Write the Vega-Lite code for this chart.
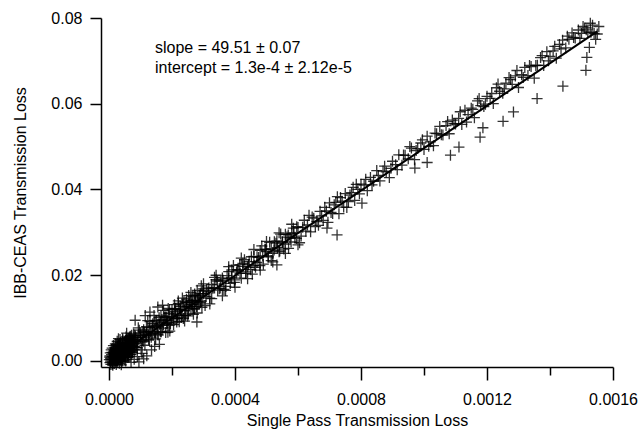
{
 "$schema": "https://vega.github.io/schema/vega-lite/v6.json",
 "width": 512, "height": 349,
 "autosize": {"type": "none"},
 "padding": {"left": 101, "top": 18, "right": 28, "bottom": 64},
 "background": "white",
 "config": {
  "view": {"stroke": null},
  "font": "Liberation Sans",
  "axis": {"domainColor": "#000", "domainWidth": 1.5, "tickColor": "#000", "tickWidth": 1.5, "labelColor": "#000", "titleColor": "#000", "labelFont": "Liberation Sans", "titleFont": "Liberation Sans", "labelFontSize": 16, "titleFontSize": 16, "titleFontWeight": "normal", "grid": false, "labelFlush": false, "labelOverlap": false, "labelBound": false}
 },
 "datasets": {
  "pts": [
   {"x":0.2e-5,"y":0.9e-3},{"x":0.3e-5,"y":-0.4e-3},{"x":0.4e-5,"y":1.9e-3},{"x":0.5e-5,"y":0.6e-3},{"x":0.6e-5,"y":-0.8e-3},{"x":0.6e-5,"y":0.2e-3},{"x":0.7e-5,"y":2.6e-3},{"x":0.8e-5,"y":1.5e-3},{"x":0.9e-5,"y":0.4e-3},{"x":1.0e-5,"y":-0.2e-3},{"x":1.0e-5,"y":3.0e-3},{"x":1.1e-5,"y":1.1e-3},{"x":1.2e-5,"y":0.3e-3},{"x":1.2e-5,"y":-1.0e-3},{"x":1.3e-5,"y":-0.5e-3},{"x":1.4e-5,"y":2.1e-3},{"x":1.4e-5,"y":3.6e-3},{"x":1.5e-5,"y":0.9e-3},{"x":1.6e-5,"y":1.6e-3},{"x":1.7e-5,"y":-0.6e-3},{"x":1.8e-5,"y":0.5e-3},{"x":1.9e-5,"y":1.4e-3},{"x":2.0e-5,"y":0.2e-3},{"x":2.0e-5,"y":4.0e-3},{"x":2.1e-5,"y":2.8e-3},{"x":2.2e-5,"y":1.3e-3},{"x":2.3e-5,"y":0.7e-3},{"x":2.3e-5,"y":-0.8e-3},{"x":2.4e-5,"y":1.8e-3},{"x":2.5e-5,"y":2.4e-3},{"x":2.6e-5,"y":-0.3e-3},{"x":2.6e-5,"y":4.6e-3},{"x":2.7e-5,"y":3.4e-3},{"x":2.8e-5,"y":0.0},{"x":2.9e-5,"y":1.1e-3},{"x":3.0e-5,"y":2.3e-3},{"x":3.0e-5,"y":5.2e-3},{"x":3.1e-5,"y":0.4e-3},{"x":3.2e-5,"y":2.9e-3},{"x":3.3e-5,"y":1.7e-3},{"x":3.3e-5,"y":-0.5e-3},{"x":3.4e-5,"y":3.9e-3},{"x":3.5e-5,"y":0.9e-3},{"x":3.5e-5,"y":5.0e-3},{"x":3.6e-5,"y":2.6e-3},{"x":3.7e-5,"y":1.4e-3},{"x":3.8e-5,"y":0.1e-3},{"x":3.9e-5,"y":1.9e-3},{"x":4.0e-5,"y":3.1e-3},{"x":4.1e-5,"y":1.3e-3},{"x":4.1e-5,"y":-0.1e-3},{"x":4.2e-5,"y":4.4e-3},{"x":4.3e-5,"y":0.2e-3},{"x":4.4e-5,"y":2.2e-3},{"x":4.5e-5,"y":0.6e-3},{"x":4.6e-5,"y":2.9e-3},{"x":4.7e-5,"y":1.6e-3},{"x":4.8e-5,"y":3.7e-3},{"x":4.9e-5,"y":2.0e-3},{"x":5.0e-5,"y":2.4e-3},{"x":5.0e-5,"y":0.3e-3},{"x":5.1e-5,"y":0.9e-3},{"x":5.2e-5,"y":4.8e-3},{"x":5.3e-5,"y":3.0e-3},{"x":5.4e-5,"y":1.8e-3},{"x":5.5e-5,"y":4.2e-3},{"x":5.6e-5,"y":3.5e-3},{"x":5.7e-5,"y":2.1e-3},{"x":5.8e-5,"y":5.3e-3},{"x":5.9e-5,"y":2.7e-3},{"x":6.0e-5,"y":1.2e-3},{"x":6.0e-5,"y":0.8e-3},{"x":6.1e-5,"y":4.1e-3},{"x":6.2e-5,"y":2.9e-3},{"x":6.3e-5,"y":3.2e-3},{"x":6.4e-5,"y":2.0e-3},{"x":6.5e-5,"y":5.6e-3},{"x":6.6e-5,"y":3.8e-3},{"x":6.7e-5,"y":4.9e-3},{"x":6.8e-5,"y":2.6e-3},{"x":6.9e-5,"y":4.5e-3},{"x":7.0e-5,"y":3.0e-3},{"x":7.0e-5,"y":1.5e-3},{"x":7.1e-5,"y":3.9e-3},{"x":7.2e-5,"y":6.0e-3},{"x":7.3e-5,"y":3.6e-3},{"x":7.4e-5,"y":2.4e-3},{"x":7.5e-5,"y":3.4e-3},{"x":7.6e-5,"y":4.7e-3},{"x":7.7e-5,"y":3.3e-3},{"x":7.8e-5,"y":6.3e-3},{"x":7.9e-5,"y":5.4e-3},{"x":8.0e-5,"y":4.0e-3},
   {"x":1.8e-5,"y":2.4e-3},{"x":2.9e-5,"y":3.6e-3},{"x":4.4e-5,"y":4.9e-3},{"x":5.6e-5,"y":6.5e-3},{"x":3.9e-5,"y":-0.9e-3},{"x":5.3e-5,"y":0.0},{"x":6.3e-5,"y":1.0e-3},{"x":7.4e-5,"y":1.9e-3},{"x":8.2e-5,"y":2.6e-3},
   {"x":0.1e-5,"y":0.3e-3},{"x":0.3e-5,"y":1.2e-3},{"x":0.5e-5,"y":-0.2e-3},{"x":0.7e-5,"y":0.9e-3},{"x":0.9e-5,"y":2.0e-3},{"x":1.1e-5,"y":-0.7e-3},{"x":1.3e-5,"y":1.8e-3},{"x":1.5e-5,"y":2.6e-3},{"x":1.7e-5,"y":0.8e-3},{"x":1.9e-5,"y":3.1e-3},{"x":2.1e-5,"y":-0.2e-3},{"x":2.2e-5,"y":2.0e-3},{"x":2.4e-5,"y":3.8e-3},{"x":2.5e-5,"y":0.4e-3},{"x":2.7e-5,"y":1.5e-3},{"x":2.8e-5,"y":2.9e-3},{"x":3.0e-5,"y":0.8e-3},{"x":3.1e-5,"y":3.6e-3},{"x":3.2e-5,"y":1.2e-3},{"x":3.4e-5,"y":2.2e-3},{"x":3.6e-5,"y":4.3e-3},{"x":3.7e-5,"y":0.4e-3},{"x":3.8e-5,"y":3.0e-3},{"x":4.0e-5,"y":1.8e-3},{"x":4.2e-5,"y":2.7e-3},{"x":4.3e-5,"y":5.2e-3},{"x":4.5e-5,"y":3.4e-3},{"x":4.6e-5,"y":1.0e-3},{"x":4.8e-5,"y":2.6e-3},{"x":4.9e-5,"y":4.4e-3},{"x":5.1e-5,"y":3.3e-3},{"x":5.2e-5,"y":1.4e-3},{"x":5.4e-5,"y":5.6e-3},{"x":5.5e-5,"y":2.5e-3},{"x":5.7e-5,"y":4.0e-3},{"x":5.9e-5,"y":1.7e-3},{"x":6.1e-5,"y":3.4e-3},{"x":6.2e-5,"y":5.3e-3},{"x":6.4e-5,"y":4.2e-3},{"x":6.6e-5,"y":2.2e-3},{"x":6.8e-5,"y":5.8e-3},{"x":6.9e-5,"y":3.5e-3},{"x":7.1e-5,"y":2.1e-3},{"x":7.3e-5,"y":5.0e-3},{"x":7.5e-5,"y":4.3e-3},{"x":7.7e-5,"y":2.7e-3},{"x":7.9e-5,"y":4.6e-3},{"x":8.1e-5,"y":3.4e-3},{"x":8.3e-5,"y":5.8e-3},{"x":8.6e-5,"y":3.2e-3},
   {"x":9.0e-5,"y":1.0e-3},{"x":10.5e-5,"y":1.8e-3},{"x":12.0e-5,"y":1.2e-3},{"x":13.5e-5,"y":2.6e-3},{"x":11.0e-5,"y":0.5e-3},{"x":14.5e-5,"y":3.4e-3},{"x":16.0e-5,"y":3.9e-3},{"x":8.0e-5,"y":0.4e-3},{"x":7.0e-5,"y":-0.3e-3},{"x":9.5e-5,"y":-0.2e-3},
   {"x":8.5e-5,"y":5.54e-3},{"x":9.0e-5,"y":3.09e-3},{"x":9.6e-5,"y":7.18e-3},{"x":10.0e-5,"y":5.48e-3},{"x":10.5e-5,"y":4.43e-3},{"x":11.0e-5,"y":7.28e-3},{"x":11.4e-5,"y":3.67e-3},{"x":12.0e-5,"y":6.87e-3},{"x":12.5e-5,"y":6.02e-3},{"x":13.0e-5,"y":9.17e-3},{"x":13.4e-5,"y":5.56e-3},{"x":14.0e-5,"y":8.16e-3},{"x":14.5e-5,"y":6.71e-3},{"x":15.0e-5,"y":9.46e-3},{"x":15.6e-5,"y":6.05e-3},{"x":16.0e-5,"y":8.55e-3},{"x":16.5e-5,"y":10.5e-3},{"x":17.0e-5,"y":7.65e-3},{"x":17.6e-5,"y":10.24e-3},{"x":18.0e-5,"y":6.64e-3},{"x":18.5e-5,"y":9.49e-3},{"x":19.0e-5,"y":11.14e-3},{"x":19.5e-5,"y":8.68e-3},{"x":20.0e-5,"y":12.03e-3},{"x":20.6e-5,"y":9.93e-3},{"x":21.0e-5,"y":11.53e-3},{"x":21.5e-5,"y":9.07e-3},{"x":22.0e-5,"y":13.42e-3},{"x":22.6e-5,"y":11.92e-3},{"x":23.0e-5,"y":10.22e-3},{"x":23.5e-5,"y":13.26e-3},{"x":24.0e-5,"y":11.81e-3},{"x":24.6e-5,"y":14.41e-3},{"x":25.0e-5,"y":10.51e-3},{"x":25.5e-5,"y":13.65e-3},{"x":26.0e-5,"y":12.30e-3},{"x":26.6e-5,"y":15.10e-3},{"x":27.0e-5,"y":12.10e-3},{"x":27.5e-5,"y":14.05e-3},{"x":28.0e-5,"y":16.49e-3},{"x":28.6e-5,"y":13.29e-3},{"x":29.0e-5,"y":15.69e-3},{"x":29.5e-5,"y":12.54e-3},{"x":30.0e-5,"y":15.68e-3},
   {"x":8.8e-5,"y":4.09e-3},{"x":9.3e-5,"y":7.73e-3},{"x":10.2e-5,"y":2.58e-3},{"x":10.8e-5,"y":6.88e-3},{"x":11.7e-5,"y":6.02e-3},{"x":12.3e-5,"y":9.42e-3},{"x":12.8e-5,"y":4.87e-3},{"x":13.7e-5,"y":7.81e-3},{"x":14.3e-5,"y":10.61e-3},{"x":14.8e-5,"y":5.16e-3},{"x":15.3e-5,"y":8.01e-3},{"x":16.3e-5,"y":6.80e-3},{"x":16.8e-5,"y":9.65e-3},{"x":17.3e-5,"y":11.80e-3},{"x":18.3e-5,"y":8.69e-3},{"x":18.8e-5,"y":12.24e-3},{"x":19.3e-5,"y":6.99e-3},{"x":20.3e-5,"y":10.78e-3},{"x":20.8e-5,"y":13.13e-3},{"x":21.3e-5,"y":9.88e-3},{"x":22.3e-5,"y":9.17e-3},{"x":22.8e-5,"y":12.72e-3},{"x":23.3e-5,"y":14.67e-3},{"x":24.3e-5,"y":10.66e-3},{"x":24.8e-5,"y":12.81e-3},{"x":25.3e-5,"y":15.26e-3},{"x":26.3e-5,"y":13.15e-3},{"x":26.8e-5,"y":10.90e-3},{"x":27.3e-5,"y":15.25e-3},{"x":28.3e-5,"y":13.84e-3},{"x":28.8e-5,"y":15.29e-3},{"x":29.3e-5,"y":17.54e-3},
   {"x":9.2e-5,"y":4.99e-3},{"x":9.9e-5,"y":6.53e-3},{"x":10.6e-5,"y":4.78e-3},{"x":11.3e-5,"y":6.62e-3},{"x":11.9e-5,"y":8.02e-3},{"x":12.6e-5,"y":5.07e-3},{"x":13.2e-5,"y":6.87e-3},{"x":13.9e-5,"y":8.71e-3},{"x":14.6e-5,"y":6.46e-3},{"x":15.2e-5,"y":8.26e-3},{"x":15.9e-5,"y":10.10e-3},{"x":16.6e-5,"y":6.85e-3},{"x":17.2e-5,"y":9.05e-3},{"x":17.9e-5,"y":10.29e-3},{"x":18.6e-5,"y":8.94e-3},{"x":19.2e-5,"y":11.94e-3},{"x":19.9e-5,"y":10.08e-3},{"x":20.5e-5,"y":8.48e-3},{"x":21.2e-5,"y":12.23e-3},{"x":21.8e-5,"y":10.72e-3},{"x":22.5e-5,"y":12.07e-3},{"x":23.2e-5,"y":10.62e-3},{"x":23.8e-5,"y":13.81e-3},{"x":24.5e-5,"y":12.56e-3},{"x":25.2e-5,"y":11.01e-3},{"x":25.8e-5,"y":14.00e-3},{"x":26.5e-5,"y":12.75e-3},{"x":27.2e-5,"y":15.60e-3},{"x":27.8e-5,"y":12.69e-3},{"x":28.5e-5,"y":14.74e-3},{"x":29.2e-5,"y":13.99e-3},{"x":29.8e-5,"y":16.28e-3},
   {"x":5.5e-5,"y":3.85e-3},{"x":6.4e-5,"y":2.10e-3},{"x":7.3e-5,"y":4.14e-3},{"x":8.2e-5,"y":5.99e-3},{"x":9.1e-5,"y":4.44e-3},{"x":10.1e-5,"y":5.93e-3},{"x":11.0e-5,"y":4.58e-3},{"x":11.9e-5,"y":6.12e-3},{"x":12.8e-5,"y":7.77e-3},{"x":13.7e-5,"y":6.41e-3},{"x":14.6e-5,"y":9.36e-3},{"x":15.5e-5,"y":6.20e-3},{"x":16.4e-5,"y":8.85e-3},{"x":17.3e-5,"y":8.40e-3},{"x":18.2e-5,"y":10.24e-3},{"x":19.1e-5,"y":8.29e-3},{"x":20.0e-5,"y":10.33e-3},{"x":20.9e-5,"y":12.18e-3},{"x":21.8e-5,"y":10.02e-3},{"x":22.7e-5,"y":11.87e-3},{"x":23.6e-5,"y":9.91e-3},{"x":24.5e-5,"y":13.66e-3},{"x":25.4e-5,"y":12.61e-3},{"x":26.3e-5,"y":14.05e-3},{"x":27.2e-5,"y":12.20e-3},{"x":28.1e-5,"y":14.24e-3},{"x":29.0e-5,"y":13.69e-3},{"x":29.9e-5,"y":16.83e-3},{"x":30.8e-5,"y":14.98e-3},{"x":31.7e-5,"y":17.02e-3},{"x":32.6e-5,"y":14.57e-3},{"x":33.5e-5,"y":17.02e-3},{"x":34.4e-5,"y":18.66e-3},{"x":35.3e-5,"y":17.01e-3},{"x":36.2e-5,"y":18.85e-3},{"x":37.1e-5,"y":17.40e-3},{"x":38.0e-5,"y":20.84e-3},{"x":38.9e-5,"y":19.39e-3},{"x":39.8e-5,"y":18.33e-3},{"x":40.7e-5,"y":21.28e-3},{"x":41.6e-5,"y":20.43e-3},{"x":42.5e-5,"y":22.77e-3},{"x":43.4e-5,"y":20.42e-3},{"x":44.3e-5,"y":22.46e-3},{"x":45.2e-5,"y":24.31e-3},{"x":46.1e-5,"y":22.25e-3},{"x":47.0e-5,"y":24.30e-3},{"x":47.9e-5,"y":22.25e-3},{"x":48.8e-5,"y":24.49e-3},{"x":49.7e-5,"y":26.04e-3},{"x":50.6e-5,"y":24.28e-3},{"x":51.5e-5,"y":26.23e-3},{"x":52.4e-5,"y":25.87e-3},{"x":53.3e-5,"y":28.02e-3},{"x":54.2e-5,"y":25.66e-3},{"x":55.1e-5,"y":27.81e-3},{"x":56.0e-5,"y":27.26e-3},{"x":56.9e-5,"y":29.40e-3},{"x":57.8e-5,"y":27.75e-3},{"x":58.7e-5,"y":29.89e-3},{"x":59.6e-5,"y":31.34e-3},
   {"x":22e-5,"y":14.0e-3},{"x":26e-5,"y":16.0e-3},{"x":30e-5,"y":18.0e-3},{"x":34e-5,"y":20.0e-3},{"x":38e-5,"y":22.0e-3},{"x":42e-5,"y":24.0e-3},{"x":46e-5,"y":26.0e-3},{"x":50e-5,"y":27.9e-3},{"x":54e-5,"y":29.9e-3},{"x":58e-5,"y":31.9e-3},
   {"x":24e-5,"y":9.3e-3},{"x":28e-5,"y":11.2e-3},{"x":32e-5,"y":13.3e-3},{"x":36e-5,"y":15.2e-3},{"x":40e-5,"y":17.2e-3},{"x":44e-5,"y":19.2e-3},{"x":48e-5,"y":21.2e-3},{"x":52e-5,"y":23.1e-3},{"x":56e-5,"y":25.1e-3},{"x":60e-5,"y":27.1e-3},
   {"x":8.3e-5,"y":9.5e-3},{"x":13.0e-5,"y":11.4e-3},{"x":17.0e-5,"y":13.0e-3},{"x":27.9e-5,"y":9.1e-3},{"x":18.7e-5,"y":6.7e-3},{"x":11.5e-5,"y":10.6e-3},{"x":15.5e-5,"y":12.6e-3},
   {"x":31e-5,"y":16.48e-3},{"x":32e-5,"y":14.67e-3},{"x":33e-5,"y":16.97e-3},{"x":34e-5,"y":18.96e-3},{"x":35e-5,"y":16.86e-3},{"x":36e-5,"y":19.35e-3},{"x":37e-5,"y":16.45e-3},{"x":38e-5,"y":19.24e-3},{"x":39e-5,"y":21.24e-3},{"x":40e-5,"y":18.93e-3},{"x":41e-5,"y":21.13e-3},{"x":42e-5,"y":19.32e-3},{"x":43e-5,"y":23.62e-3},{"x":44e-5,"y":21.91e-3},{"x":45e-5,"y":21.31e-3},{"x":46e-5,"y":24.40e-3},{"x":47e-5,"y":23.00e-3},{"x":48e-5,"y":25.79e-3},{"x":49e-5,"y":22.59e-3},{"x":50e-5,"y":25.49e-3},{"x":51e-5,"y":27.68e-3},{"x":52e-5,"y":25.08e-3},{"x":53e-5,"y":27.47e-3},{"x":54e-5,"y":25.47e-3},{"x":55e-5,"y":27.56e-3},{"x":56e-5,"y":29.56e-3},{"x":57e-5,"y":26.25e-3},{"x":58e-5,"y":29.75e-3},{"x":59e-5,"y":28.84e-3},{"x":60e-5,"y":31.14e-3},{"x":61e-5,"y":29.13e-3},{"x":62e-5,"y":32.83e-3},{"x":63e-5,"y":31.72e-3},{"x":64e-5,"y":30.12e-3},{"x":65e-5,"y":33.31e-3},{"x":66e-5,"y":32.51e-3},{"x":67e-5,"y":34.90e-3},{"x":68e-5,"y":32.80e-3},{"x":69e-5,"y":34.99e-3},{"x":70e-5,"y":36.89e-3},{"x":71e-5,"y":34.38e-3},{"x":72e-5,"y":36.98e-3},{"x":73e-5,"y":34.37e-3},{"x":74e-5,"y":37.27e-3},{"x":75e-5,"y":39.06e-3},{"x":76e-5,"y":37.16e-3},{"x":77e-5,"y":39.25e-3},{"x":78e-5,"y":37.45e-3},{"x":79e-5,"y":40.04e-3},{"x":80e-5,"y":41.24e-3},
   {"x":30.5e-5,"y":12.93e-3},{"x":33.5e-5,"y":19.52e-3},{"x":36.5e-5,"y":16.70e-3},{"x":39.5e-5,"y":22.29e-3},{"x":42.5e-5,"y":22.07e-3},{"x":45.5e-5,"y":20.26e-3},{"x":48.5e-5,"y":26.84e-3},{"x":51.5e-5,"y":23.43e-3},{"x":54.5e-5,"y":29.61e-3},{"x":57.5e-5,"y":28.70e-3},{"x":60.5e-5,"y":27.58e-3},{"x":63.5e-5,"y":33.97e-3},{"x":66.5e-5,"y":31.65e-3},{"x":69.5e-5,"y":32.34e-3},{"x":72.5e-5,"y":38.33e-3},{"x":75.5e-5,"y":35.81e-3},{"x":78.5e-5,"y":41.20e-3},
   {"x":31.5e-5,"y":16.13e-3},{"x":32.5e-5,"y":17.82e-3},{"x":34.5e-5,"y":16.51e-3},{"x":35.5e-5,"y":18.61e-3},{"x":37.5e-5,"y":19.90e-3},{"x":38.5e-5,"y":18.09e-3},{"x":40.5e-5,"y":20.78e-3},{"x":41.5e-5,"y":22.48e-3},{"x":43.5e-5,"y":20.77e-3},{"x":44.5e-5,"y":23.16e-3},{"x":46.5e-5,"y":21.85e-3},{"x":47.5e-5,"y":24.15e-3},{"x":49.5e-5,"y":26.04e-3},{"x":50.5e-5,"y":24.53e-3},{"x":52.5e-5,"y":27.82e-3},{"x":53.5e-5,"y":26.42e-3},{"x":55.5e-5,"y":26.11e-3},{"x":56.5e-5,"y":28.90e-3},{"x":58.5e-5,"y":30.99e-3},{"x":59.5e-5,"y":28.59e-3},{"x":61.5e-5,"y":31.18e-3},{"x":62.5e-5,"y":30.27e-3},{"x":64.5e-5,"y":33.56e-3},{"x":65.5e-5,"y":31.36e-3},{"x":67.5e-5,"y":33.85e-3},{"x":68.5e-5,"y":35.84e-3},{"x":70.5e-5,"y":34.63e-3},{"x":71.5e-5,"y":36.43e-3},{"x":73.5e-5,"y":38.12e-3},{"x":74.5e-5,"y":35.91e-3},{"x":76.5e-5,"y":38.70e-3},{"x":77.5e-5,"y":40.50e-3},{"x":79.5e-5,"y":38.99e-3},
   {"x":72.4e-5,"y":29.4e-3},{"x":69.2e-5,"y":31.0e-3},{"x":80.3e-5,"y":36.8e-3},{"x":53.3e-5,"y":22.4e-3},
   {"x":81e-5,"y":41.03e-3},{"x":82e-5,"y":39.73e-3},{"x":83e-5,"y":42.82e-3},{"x":84e-5,"y":41.92e-3},{"x":85e-5,"y":44.41e-3},{"x":86e-5,"y":42.01e-3},{"x":87e-5,"y":44.30e-3},{"x":88e-5,"y":44.10e-3},{"x":89e-5,"y":42.79e-3},{"x":90e-5,"y":46.59e-3},{"x":91e-5,"y":45.78e-3},{"x":92e-5,"y":48.08e-3},{"x":93e-5,"y":45.67e-3},{"x":94e-5,"y":47.97e-3},{"x":95e-5,"y":47.16e-3},{"x":96e-5,"y":49.66e-3},{"x":97e-5,"y":46.95e-3},{"x":98e-5,"y":49.55e-3},{"x":99e-5,"y":50.84e-3},{"x":100e-5,"y":49.34e-3},{"x":101e-5,"y":52.44e-3},{"x":102e-5,"y":51.13e-3},{"x":103e-5,"y":50.23e-3},{"x":104e-5,"y":53.02e-3},{"x":105e-5,"y":54.72e-3},{"x":106e-5,"y":52.71e-3},{"x":107e-5,"y":54.91e-3},{"x":108e-5,"y":53.00e-3},{"x":109e-5,"y":56.20e-3},{"x":110e-5,"y":55.29e-3},{"x":111e-5,"y":56.59e-3},{"x":112e-5,"y":55.18e-3},{"x":113e-5,"y":58.48e-3},{"x":114e-5,"y":57.47e-3},{"x":115e-5,"y":58.97e-3},{"x":116e-5,"y":56.76e-3},{"x":117e-5,"y":60.66e-3},{"x":118e-5,"y":59.55e-3},{"x":119e-5,"y":59.35e-3},{"x":120e-5,"y":61.74e-3},{"x":121e-5,"y":61.24e-3},{"x":122e-5,"y":60.03e-3},{"x":123e-5,"y":63.73e-3},{"x":124e-5,"y":62.92e-3},{"x":125e-5,"y":62.42e-3},{"x":126e-5,"y":64.81e-3},{"x":127e-5,"y":66.11e-3},{"x":128e-5,"y":64.50e-3},{"x":129e-5,"y":66.50e-3},{"x":130e-5,"y":63.79e-3},{"x":131e-5,"y":66.79e-3},{"x":132e-5,"y":68.48e-3},{"x":133e-5,"y":66.58e-3},{"x":134e-5,"y":68.67e-3},{"x":135e-5,"y":65.97e-3},{"x":136e-5,"y":68.96e-3},{"x":137e-5,"y":70.76e-3},{"x":138e-5,"y":68.95e-3},{"x":139e-5,"y":72.15e-3},{"x":140e-5,"y":71.04e-3},{"x":141e-5,"y":72.34e-3},{"x":142e-5,"y":70.63e-3},{"x":143e-5,"y":73.83e-3},{"x":144e-5,"y":74.83e-3},{"x":145e-5,"y":73.02e-3},{"x":146e-5,"y":75.02e-3},{"x":147e-5,"y":76.51e-3},{"x":148e-5,"y":75.31e-3},{"x":149e-5,"y":77.20e-3},{"x":150e-5,"y":76.40e-3},{"x":151e-5,"y":77.69e-3},{"x":152e-5,"y":76.69e-3},{"x":153e-5,"y":76.68e-3},{"x":154e-5,"y":76.38e-3},{"x":155e-5,"y":76.27e-3},{"x":153.5e-5,"y":78.33e-3},{"x":154.5e-5,"y":75.02e-3},{"x":155.5e-5,"y":78.02e-3},{"x":152.5e-5,"y":73.13e-3},
   {"x":81.5e-5,"y":42.38e-3},{"x":83.5e-5,"y":41.07e-3},{"x":85.5e-5,"y":43.26e-3},{"x":87.5e-5,"y":45.45e-3},{"x":89.5e-5,"y":44.94e-3},{"x":91.5e-5,"y":44.63e-3},{"x":93.5e-5,"y":48.02e-3},{"x":95.5e-5,"y":50.01e-3},{"x":97.5e-5,"y":49.10e-3},{"x":99.5e-5,"y":51.59e-3},{"x":101.5e-5,"y":50.08e-3},{"x":103.5e-5,"y":53.17e-3},{"x":105.5e-5,"y":52.76e-3},{"x":107.5e-5,"y":55.85e-3},{"x":109.5e-5,"y":55.34e-3},{"x":111.5e-5,"y":58.13e-3},{"x":113.5e-5,"y":55.72e-3},{"x":115.5e-5,"y":58.71e-3},{"x":117.5e-5,"y":61.20e-3},{"x":119.5e-5,"y":59.89e-3},{"x":121.5e-5,"y":62.39e-3},{"x":123.5e-5,"y":64.58e-3},{"x":125.5e-5,"y":63.47e-3},{"x":127.5e-5,"y":65.66e-3},{"x":129.5e-5,"y":67.75e-3},{"x":131.5e-5,"y":66.14e-3},{"x":133.5e-5,"y":68.93e-3},{"x":135.5e-5,"y":68.92e-3},{"x":137.5e-5,"y":71.21e-3},{"x":139.5e-5,"y":70.00e-3},{"x":141.5e-5,"y":73.39e-3},{"x":143.5e-5,"y":72.78e-3},{"x":145.5e-5,"y":75.77e-3},{"x":147.5e-5,"y":75.46e-3},{"x":149.5e-5,"y":75.25e-3},{"x":150.5e-5,"y":78.04e-3},{"x":151.5e-5,"y":77.24e-3},{"x":152.8e-5,"y":78.78e-3},
   {"x":151.7e-5,"y":70.8e-3},{"x":151.4e-5,"y":67.8e-3},{"x":144.1e-5,"y":64.1e-3},{"x":135.9e-5,"y":61.2e-3},{"x":128.4e-5,"y":58.1e-3},{"x":125.1e-5,"y":55.9e-3},{"x":118.7e-5,"y":54.4e-3},{"x":117.8e-5,"y":52.2e-3},{"x":111.1e-5,"y":49.9e-3},{"x":108.4e-5,"y":48.0e-3},{"x":101.0e-5,"y":46.3e-3},{"x":97.1e-5,"y":45.0e-3}
  ],
  "fit": [{"x": 0.00001, "y": 0.000625}, {"x": 0.00155, "y": 0.07687}],
  "notes": [
   {"label": "slope = 49.51 ± 0.07", "x": 0.000146, "y": 0.0730},
   {"label": "intercept = 1.3e-4 ± 2.12e-5", "x": 0.000146, "y": 0.0683}
  ]
 },
 "layer": [
  {
   "data": {"name": "pts"},
   "mark": {"type": "point", "shape": "M-1,0L1,0M0,-1L0,1", "filled": false, "stroke": "#000", "strokeWidth": 1.3, "size": 121, "opacity": 0.8},
   "encoding": {
    "x": {"field": "x", "type": "quantitative", "scale": {"domain": [-0.0000254, 0.0016], "nice": false, "zero": false},
     "axis": {"title": "Single Pass Transmission Loss", "values": [0, 0.0002, 0.0004, 0.0006, 0.0008, 0.001, 0.0012, 0.0014, 0.0016],
      "labelExpr": "round(datum.value*10000) % 4 == 0 ? format(datum.value, '.4f') : ''",
      "tickSize": {"condition": {"test": "round(datum.value*10000) % 4 == 0", "value": 13}, "value": 8},
      "labelPadding": 11, "titlePadding": 5}},
    "y": {"field": "y", "type": "quantitative", "scale": {"domain": [-0.0014, 0.08], "nice": false, "zero": false},
     "axis": {"title": "IBB-CEAS Transmission Loss", "values": [0, 0.02, 0.04, 0.06, 0.08], "format": ".2f", "tickSize": 11, "labelPadding": 8, "titlePadding": 22}}
   }
  },
  {
   "data": {"name": "fit"},
   "mark": {"type": "line", "color": "#000", "strokeWidth": 2},
   "encoding": {"x": {"field": "x", "type": "quantitative"}, "y": {"field": "y", "type": "quantitative"}}
  },
  {
   "data": {"name": "notes"},
   "mark": {"type": "text", "align": "left", "baseline": "middle", "fontSize": 16, "font": "Liberation Sans", "color": "#000"},
   "encoding": {"x": {"field": "x", "type": "quantitative"}, "y": {"field": "y", "type": "quantitative"}, "text": {"field": "label"}}
  }
 ]
}
